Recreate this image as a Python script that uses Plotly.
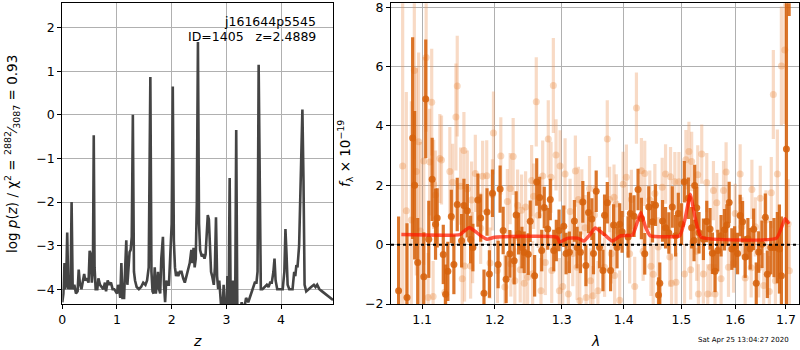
import numpy as np
import plotly.graph_objects as go

# ---------------- p(z) data ----------------
z_grid = [0.00,0.02,0.04,0.05,0.07,0.09,0.11,0.13,0.15,0.17,0.19,0.22,0.25,0.28,0.30,0.32,0.35,0.38,0.40,0.42,
          0.45,0.48,0.50,0.52,0.54,0.56,0.575,0.59,0.61,0.64,0.66,0.69,0.72,0.75,0.78,0.80,0.83,0.86,0.89,0.92,
          0.95,0.98,1.00,1.02,1.04,1.06,1.08,1.10,1.13,1.15,1.17,1.19,1.21,1.23,1.25,1.27,1.29,1.31,1.33,1.36,
          1.40,1.44,1.48,1.52,1.55,1.58,1.61,1.63,1.65,1.67,1.69,1.71,1.73,1.75,1.77,1.79,1.81,1.84,1.86,1.88,
          1.90,1.92,1.95,1.98,2.00,2.02,2.04,2.06,2.08,2.10,2.12,2.15,2.18,2.21,2.24,2.27,2.30,2.33,2.36,2.38,
          2.40,2.42,2.44,2.46,2.48,2.50,2.52,2.55,2.58,2.60,2.62,2.64,2.66,2.68,2.70,2.72,2.74,2.77,2.79,2.81,
          2.83,2.85,2.87,2.89,2.91,2.93,2.95,2.97,3.00,3.02,3.04,3.06,3.08,3.10,3.12,3.14,3.16,3.18,3.20,3.24,
          3.28,3.32,3.36,3.40,3.44,3.48,3.52,3.55,3.57,3.59,3.61,3.63,3.66,3.70,3.74,3.77,3.80,3.83,3.86,3.88,
          3.90,3.93,3.96,4.00,4.03,4.06,4.08,4.10,4.12,4.15,4.18,4.21,4.24,4.26,4.28,4.30,4.33,4.36,4.39,4.41,
          4.43,4.46,4.50,4.55,4.60,4.63,4.66,4.70,4.75,4.80,4.85,4.90,4.95]
log_pz = [-4.3,-4.1,-3.4,-4.0,-3.9,-2.7,-4.0,-3.9,-4.0,-2.0,-4.0,-3.9,-4.1,-4.05,-3.55,-3.85,-4.0,-3.8,-3.65,-3.8,
          -3.75,-3.85,-3.12,-3.2,-3.85,-3.5,-0.47,-3.5,-4.0,-4.0,-3.75,-3.9,-3.95,-4.0,-3.85,-4.05,-3.8,-3.9,-3.85,-4.0,
          -4.0,-4.05,-4.1,-3.9,-4.0,-4.2,-3.4,-4.2,-4.2,-3.5,-2.88,-3.9,-3.6,-3.15,-3.1,-2.8,0.0,-3.6,-3.8,-3.95,
          -4.0,-3.95,-3.85,-3.9,-3.8,-3.5,0.87,-3.6,-4.05,-4.1,-3.5,-4.1,-3.9,-3.6,-4.0,-4.1,-3.3,-2.8,-3.9,-4.3,
          -3.8,-3.9,-3.9,-2.9,-2.5,0.65,-2.9,-3.5,-3.7,-3.6,-3.7,-3.6,-3.6,-3.75,-3.85,-3.7,-3.55,-3.4,-3.1,-3.4,
          -3.05,-3.5,-3.3,-2.0,1.67,-2.5,-3.1,-3.25,-3.2,-3.3,-3.2,-2.8,-2.3,-2.4,-3.2,-3.6,-3.7,-3.9,-3.5,-2.35,
          -3.7,-4.0,-3.8,-4.3,-4.5,-4.5,-3.9,-4.5,-4.5,-3.7,-4.5,-1.45,-4.5,-4.5,-3.8,-4.5,-4.5,-0.35,-4.5,-4.6,
          -4.3,-4.5,-4.2,-4.3,-4.15,-4.05,-3.85,-3.85,-3.6,1.15,-2.5,-4.0,-4.0,-3.95,-3.9,-3.95,-3.85,-3.85,-3.6,-3.3,
          -3.8,-4.0,-4.0,-4.0,-4.0,-3.6,-2.62,-3.2,-3.9,-4.0,-4.0,-4.0,-3.6,-3.7,-3.45,-3.5,-3.0,-1.0,0.12,-1.5,
          -3.9,-4.05,-4.0,-3.95,-3.9,-3.95,-3.9,-4.0,-4.05,-4.1,-4.15,-4.2,-4.25]

# ---------------- spectrum data (dark = primary, light = secondary) ----------------
wave_dark = [1.0695,1.0803,1.0876,1.0902,1.0942,1.1022,1.1048,1.1088,1.1133,1.1178,1.1200,1.1282,1.1313,1.1344,
             1.1391,1.1426,1.1472,1.1532,1.1564,1.1611,1.1657,1.1689,1.1759,1.1798,1.1845,1.1888,1.1922,1.1966,
             1.2047,1.2076,1.2120,1.2163,1.2217,1.2281,1.2310,1.2346,1.2395,1.2429,1.2489,1.2519,1.2585,1.2616,
             1.2661,1.2692,1.2731,1.2784,1.2823,1.2876,1.2916,1.2958,1.3031,1.3067,1.3119,1.3198,1.3241,1.3294,
             1.3332,1.3381,1.3423,1.3477,1.3503,1.3547,1.3601,1.3657,1.3683,1.3728,1.3782,1.3832,1.3889,1.3933,
             1.3973,1.4074,1.4112,1.4175,1.4243,1.4300,1.4357,1.4426,1.4491,1.4543,1.4596,1.4618,1.4666,1.4719,
             1.4777,1.4838,1.4897,1.4945,1.5004,1.5053,1.5126,1.5186,1.5229,1.5241,1.5278,1.5320,1.5401,1.5463,
             1.5524,1.5568,1.5617,1.5668,1.5730,1.5795,1.5839,1.5883,1.5934,1.5986,1.6043,1.6093,1.6140,1.6190,
             1.6243,1.6288,1.6355,1.6406,1.6454,1.6519,1.6585,1.6625,1.6693,1.6759,1.6826,1.6867,1.6907,1.7009,
             1.7064]
flux_dark = [-1.55,-1.78,3.59,2.0,-0.6,-1.08,4.91,0.18,2.2,0.69,0.9,-0.33,-1.67,-0.9,
             0.95,-0.67,1.35,0.13,1.32,1.14,0.17,-0.1,1.5,0.9,-1.64,1.1,-0.99,1.73,
             -0.67,1.87,0.48,-1.17,-0.31,-0.54,1.0,0.37,-0.1,-0.26,-0.32,0.79,-1.05,2.11,
             1.59,-0.2,1.25,0.53,1.52,-0.2,0.14,0.48,0.62,-0.3,-0.26,0.8,-0.1,-0.26,
             1.44,-0.7,1.08,0.86,-0.3,1.8,-0.1,-0.87,0.99,1.41,-0.87,0.66,-0.1,0.69,
             0.43,0.26,1.05,0.96,1.86,0.88,-0.31,1.27,0.77,1.33,-1.7,-1.3,0.8,0.57,
             0.39,1.27,0.3,1.05,0.69,2.12,1.56,0.57,0.14,1.99,1.24,0.4,0.18,0.78,
             0.53,-0.29,-0.9,-0.2,0.3,0.5,0.66,1.42,-0.15,-0.08,-0.3,0.98,0.77,-0.42,
             0.2,-0.14,0.52,-1.3,-0.25,0.01,0.92,-1.0,-0.1,-0.1,-0.1,-0.15,-1.05,3.22,
             9.5]
err_dark = [2.5,2.5,3.4,2.5,1.5,1.5,2.0,1.3,1.4,1.2,1.0,1.0,1.0,1.0,
            0.9,1.0,0.9,0.9,0.9,0.9,0.8,0.8,0.9,0.8,0.8,0.8,0.8,0.8,
            0.8,0.8,0.8,0.8,0.8,0.8,0.8,0.7,0.7,0.7,0.7,0.7,0.7,0.8,
            0.7,0.7,0.7,0.7,0.7,0.7,0.7,0.7,0.7,0.7,0.7,0.7,0.7,0.7,
            0.7,0.7,0.7,0.7,0.7,0.7,0.7,0.7,0.7,0.7,0.7,0.7,0.7,0.7,
            0.7,0.7,0.7,0.7,0.7,0.7,0.7,0.7,0.7,0.7,0.6,0.7,0.7,0.7,
            0.7,0.7,0.7,0.7,0.7,0.7,0.7,0.7,0.7,0.7,0.7,0.7,0.7,0.7,
            0.7,0.7,0.7,0.7,0.7,0.7,0.7,0.7,0.7,0.7,0.7,0.7,0.7,0.7,
            0.7,0.7,0.7,0.7,0.7,0.8,0.8,0.8,0.9,1.0,1.2,1.5,2.0,5.5,
            1.8]

wave_light = [1.0747,1.0794,1.0859,1.0898,1.0924,1.0954,1.0978,1.1022,1.1053,1.1080,1.1100,1.1127,1.1146,1.1153,
              1.1178,1.1236,1.1258,1.1303,1.1371,1.1409,1.1454,1.1472,1.1518,1.1541,1.1564,1.1573,1.1611,1.1657,
              1.1671,1.1685,1.1723,1.1798,1.1826,1.1884,1.1931,1.1966,1.1980,
              1.2037,1.2086,1.2144,1.2181,1.2222,1.2232,1.2266,1.2291,1.2331,1.2370,1.2390,1.2429,1.2450,1.2479,
              1.2540,1.2555,1.2570,1.2610,1.2638,1.2681,1.2707,1.2747,1.2792,1.2834,1.2845,1.2870,1.2911,1.2963,
              1.2974,1.3015,1.3052,1.3103,1.3130,1.3173,1.3214,1.3241,1.3262,1.3284,1.3316,1.3369,1.3385,1.3439,
              1.3455,1.3494,1.3520,1.3575,1.3683,1.3728,1.3766,1.3794,1.3839,1.3849,1.3877,1.3933,1.3990,1.4045,
              1.4100,1.4129,1.4186,1.4215,1.4300,1.4329,1.4357,1.4444,1.4464,1.4503,1.4532,1.4590,1.4660,1.4719,
              1.4795,1.4807,1.4825,1.4884,1.4905,1.4956,1.5058,1.5082,1.5137,1.5168,1.5186,
              1.5278,1.5297,1.5309,1.5370,1.5401,1.5463,1.5481,1.5536,1.5587,1.5617,1.5649,1.5730,1.5776,1.5825,
              1.5870,1.5966,1.5998,1.6093,1.6126,1.6190,1.6307,1.6321,1.6387,1.6454,1.6485,1.6553,1.6598,1.6665,
              1.6704,1.6745,1.6786,1.6826,1.6907,1.6976,1.7043,1.7069]
flux_light = [2.65,1.14,0.83,5.87,2.46,3.47,0.46,2.82,6.3,-1.78,2.78,4.8,-1.75,2.03,
              1.67,2.9,2.85,-1.6,2.46,2.1,4.3,5.34,1.97,-1.15,3.17,-0.72,1.87,-0.72,
              1.5,-0.1,2.4,0.55,2.3,2.32,-0.62,1.68,3.76,
              -0.87,2.99,-1.43,1.45,1.89,-0.65,2.97,-1.22,1.33,-0.85,1.16,-1.3,1.27,-1.1,
              2.16,-0.98,1.63,4.81,0.99,-1.55,2.31,-0.6,3.56,2.27,-0.87,5.36,3.02,-1.55,
              2.65,-1.41,2.38,-1.66,1.12,-0.3,2.48,-0.76,1.52,-1.89,1.44,0.57,-1.78,1.89,
              -1.22,-1.72,1.0,-1.55,-0.76,3.56,1.52,-0.31,1.6,-1.04,1.37,-1.87,2.03,2.27,
              -0.31,1.52,-1.41,4.6,2.49,-0.22,2.4,1.5,-0.73,-1.0,1.72,-0.08,1.93,2.38,
              -0.42,2.29,-1.3,2.12,-1.27,2.12,-0.99,2.86,3.14,-0.85,2.8,
              -0.22,2.35,-1.66,3.05,-0.99,2.09,-1.66,-0.76,1.82,-1.66,1.41,-1.15,1.82,2.45,
              -0.76,-0.62,1.05,2.38,0.6,-1.12,-0.78,1.86,0.6,-0.78,1.56,-1.38,0.83,-1.58,
              1.75,5.06,-1.22,2.38,6.02,6.56,0.7,-0.88]
err_light = [5.5,4.0,4.0,3.0,3.5,3.0,3.0,3.5,2.5,1.5,1.8,1.8,1.2,1.5,
             1.5,1.5,1.5,1.2,1.5,1.3,1.8,1.7,1.3,1.2,1.3,1.2,1.3,1.1,
             1.3,1.2,1.3,1.2,1.2,1.2,1.2,1.2,1.4,
             1.1,1.3,1.1,1.1,1.2,1.1,1.3,1.1,1.2,1.1,1.2,1.1,1.2,1.1,
             1.2,1.1,1.1,1.5,1.1,1.1,1.2,1.1,1.3,1.2,1.1,1.6,1.2,1.1,
             1.2,1.1,1.2,1.1,1.1,1.1,1.2,1.1,1.1,1.1,1.1,1.1,1.1,1.1,
             1.1,1.0,1.0,1.0,1.0,1.3,1.1,1.0,1.1,1.0,1.0,1.0,1.1,1.1,
             1.0,1.0,1.0,1.2,1.1,1.0,1.1,1.0,1.0,1.0,1.0,1.0,1.0,1.0,
             1.0,1.0,1.0,1.0,1.0,1.0,1.0,1.0,1.0,1.0,1.0,
             1.0,1.0,1.0,1.0,1.0,1.0,1.0,1.0,1.0,1.0,1.0,1.0,1.0,1.0,
             1.0,1.0,1.0,1.0,1.0,1.0,1.0,1.0,1.0,1.0,1.1,1.1,1.0,1.2,
             1.2,1.5,1.3,1.5,2.0,2.5,1.5,1.5]

# best-fit model
wave_model = [1.073,1.151,1.158,1.164,1.172,1.181,1.189,1.200,1.293,1.2965,1.303,1.310,1.325,1.335,1.345,1.353,
              1.3675,1.381,1.395,1.415,1.422,1.429,1.437,1.445,1.497,1.507,1.516,1.525,1.536,1.681,1.698,1.706]
flux_model = [0.34,0.34,0.48,0.58,0.45,0.28,0.18,0.25,0.25,0.08,0.15,0.22,0.22,0.12,0.35,0.56,
              0.35,0.12,0.3,0.32,0.7,1.08,0.6,0.3,0.3,0.9,1.70,0.9,0.25,0.22,0.87,0.7]

title_lines = ["j161644p5545", "ID=1405\u00a0\u00a0\u00a0z=2.4889"]
timestamp = "Sat Apr 25 13:04:27 2020"

FONT = "DejaVu Sans"
W, H = 800, 350

fig = go.Figure()

fig.add_trace(go.Scatter(x=z_grid, y=log_pz, mode="lines",
                         line=dict(color="#444444", width=2.6),
                         xaxis="x", yaxis="y", showlegend=False, hoverinfo="skip"))

light_c = "rgba(232,128,50,0.30)"
dark_c = "rgba(214,98,12,0.88)"
fig.add_trace(go.Scatter(x=wave_light, y=flux_light, mode="markers",
                         marker=dict(color=light_c, size=7),
                         error_y=dict(type="data", array=err_light, thickness=3.2, width=0,
                                      color="rgba(236,150,90,0.35)"),
                         xaxis="x2", yaxis="y2", showlegend=False, hoverinfo="skip"))
fig.add_trace(go.Scatter(x=wave_dark, y=flux_dark, mode="markers",
                         marker=dict(color=dark_c, size=7),
                         error_y=dict(type="data", array=err_dark, thickness=3.2, width=0,
                                      color=dark_c),
                         xaxis="x2", yaxis="y2", showlegend=False, hoverinfo="skip"))
fig.add_trace(go.Scatter(x=wave_model, y=flux_model, mode="lines",
                         line=dict(color="rgba(255,25,0,0.72)", width=3.5, shape="spline", smoothing=0.4),
                         xaxis="x2", yaxis="y2", showlegend=False, hoverinfo="skip"))

def px(v):
    return v / W

def py(v):
    return 1 - v / H

ax_common = dict(showline=True, mirror=True, linecolor="black", linewidth=1,
                 ticks="outside", ticklen=4, tickcolor="black",
                 showgrid=True, gridcolor="#b0b0b0", gridwidth=1, zeroline=False,
                 automargin=False, ticklabeloverflow="allow",
                 tickfont=dict(family=FONT, size=12.5, color="black"))

fig.update_layout(
    width=W, height=H, autosize=False,
    margin=dict(l=0, r=0, t=0, b=0, pad=0, autoexpand=False),
    paper_bgcolor="white", plot_bgcolor="white",
    font=dict(family=FONT, color="black"),
    xaxis=dict(domain=[px(62.3), px(333.3)], range=[0, 4.955], tickvals=[0, 1, 2, 3, 4],
               anchor="y", **ax_common),
    yaxis=dict(domain=[py(304), py(3.3)], range=[-4.34, 2.56], tickvals=[-4, -3, -2, -1, 0, 1, 2],
               ticktext=["\u22124", "\u22123", "\u22122", "\u22121", "0", "1", "2"],
               anchor="x", **ax_common),
    xaxis2=dict(domain=[px(391), px(799)], type="log",
                range=[np.log10(1.0598), np.log10(1.7267)],
                tickvals=[1.1, 1.2, 1.3, 1.4, 1.5, 1.6, 1.7],
                ticktext=["1.1", "1.2", "1.3", "1.4", "1.5", "1.6", "1.7"],
                anchor="y2", **ax_common),
    yaxis2=dict(domain=[py(304), py(3.3)], range=[-2, 8.13], tickvals=[-2, 0, 2, 4, 6, 8],
                ticktext=["\u22122", "0", "2", "4", "6", "8"],
                anchor="x2", **ax_common),
    shapes=[dict(type="line", xref="x2 domain", x0=0, x1=1, yref="y2", y0=0, y1=0,
                 line=dict(color="black", width=2, dash="dot"), layer="above")],
)

annotations = [
    dict(x=px(318), y=py(21), xref="paper", yref="paper", text=title_lines[0], showarrow=False,
         xanchor="right", yanchor="middle", font=dict(family=FONT, size=12.5)),
    dict(x=px(318), y=py(36), xref="paper", yref="paper", text=title_lines[1], showarrow=False,
         xanchor="right", yanchor="middle", font=dict(family=FONT, size=12.5)),
    dict(x=px(12), y=py(154), xref="paper", yref="paper", textangle=-90,
         text="log <i>p</i>(<i>z</i>) / χ<sup>2</sup> = <sup>2882</sup>⁄<sub>3087</sub> = 0.93",
         showarrow=False, xanchor="center", yanchor="middle", font=dict(family=FONT, size=13.5)),
    dict(x=px(197), y=py(341), xref="paper", yref="paper", text="<i>z</i>", showarrow=False,
         xanchor="center", yanchor="middle", font=dict(family=FONT, size=14)),
    dict(x=px(345), y=py(154), xref="paper", yref="paper", textangle=-90,
         text="<i>f</i><sub>λ</sub> × 10<sup>−19</sup>", showarrow=False,
         xanchor="center", yanchor="middle", font=dict(family=FONT, size=13.5)),
    dict(x=px(595), y=py(341), xref="paper", yref="paper", text="<i>λ</i>", showarrow=False,
         xanchor="center", yanchor="middle", font=dict(family=FONT, size=14)),
    dict(x=px(743), y=py(340), xref="paper", yref="paper", text=timestamp, showarrow=False,
         xanchor="center", yanchor="middle", font=dict(family=FONT, size=7)),
]
fig.update_layout(annotations=annotations)

fig.write_html("out.html")
